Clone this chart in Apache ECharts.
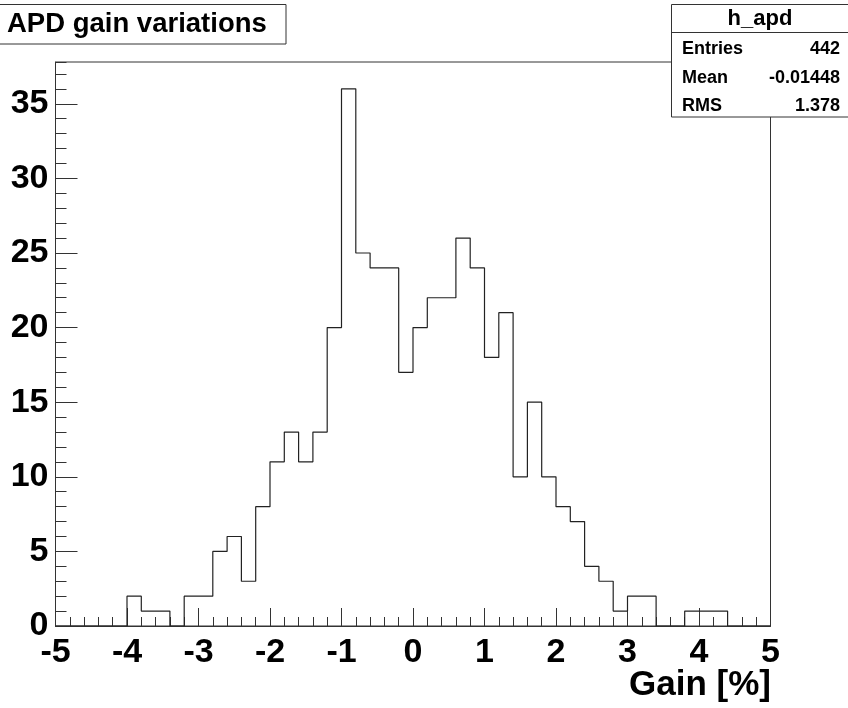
<!DOCTYPE html>
<html>
<head>
<meta charset="utf-8">
<script src="https://cdn.jsdelivr.net/npm/echarts@6/dist/echarts.min.js"></script>
<style>
  html, body { margin: 0; padding: 0; background: #fff; }
  #chart { width: 848px; height: 708px; }
</style>
</head>
<body>
<div id="chart"></div>
<script>
// histogram h_apd: 50 bins from -5 to 5
var binLow = -5;
var binWidth = 0.2;
var counts = [
  0, 0, 0, 0, 0, 2, 1, 1, 0, 2,
  2, 5, 6, 3, 8, 11, 13, 11, 13, 20,
  36, 25, 24, 24, 17, 20, 22, 22, 26, 24,
  18, 21, 10, 15, 10, 8, 7, 4, 3, 1,
  2, 2, 0, 0, 1, 1, 1, 0, 0, 0
];
var titleText = 'APD gain variations';
var statsName = 'h_apd';
var statsLabels = ['Entries', 'Mean', 'RMS'];
var statsValues = ['442', '-0.01448', '1.378'];
var xTitle = 'Gain [%]';

var yMax = 37.8; // 1.05 * max bin

// step outline: one point per bin low edge, then the last edge
var stepData = [];
for (var i = 0; i < counts.length; i++) {
  stepData.push([+(binLow + i * binWidth).toFixed(2), counts[i]]);
}
stepData.push([+(binLow + counts.length * binWidth).toFixed(2), counts[counts.length - 1]]);

var font = '"Liberation Sans", Arial, sans-serif';
var lineCol = '#333';

var chart = echarts.init(document.getElementById('chart'));

var graphic = [
  // title box
  {
    type: 'rect', z: 100,
    shape: { x: -1, y: 4.5, width: 287, height: 39.5 },
    style: { fill: '#fff', stroke: lineCol, lineWidth: 1 }
  },
  {
    type: 'text', z: 101,
    style: { text: titleText, x: 7, y: 24, font: 'bold 27.5px ' + font, fill: '#000', verticalAlign: 'middle' }
  },
  // stats box
  {
    type: 'rect', z: 100,
    shape: { x: 671.5, y: 4.5, width: 190, height: 112.5 },
    style: { fill: '#fff', stroke: lineCol, lineWidth: 1 }
  },
  {
    type: 'line', z: 101,
    shape: { x1: 671.5, y1: 32.5, x2: 848, y2: 32.5 },
    style: { stroke: lineCol, lineWidth: 1 }
  },
  {
    type: 'text', z: 101,
    style: { text: statsName, x: 760, y: 19, font: 'bold 22px ' + font, fill: '#000', align: 'center', verticalAlign: 'middle' }
  },
  {
    type: 'text', z: 101,
    style: { text: xTitle, x: 771, y: 685, font: 'bold 35px ' + font, fill: '#000', align: 'right', verticalAlign: 'middle' }
  }
];
var rowY = [49.5, 78.5, 106.5];
for (var r = 0; r < statsLabels.length; r++) {
  graphic.push({
    type: 'text', z: 101,
    style: { text: statsLabels[r], x: 682, y: rowY[r], font: 'bold 18px ' + font, fill: '#000', verticalAlign: 'middle' }
  });
  graphic.push({
    type: 'text', z: 101,
    style: { text: statsValues[r], x: 840, y: rowY[r], font: 'bold 18px ' + font, fill: '#000', align: 'right', verticalAlign: 'middle' }
  });
}

var option = {
  animation: false,
  backgroundColor: '#fff',
  grid: {
    left: 55.5, right: 77.5, top: 62, bottom: 82,
    show: true, borderColor: lineCol, borderWidth: 1, backgroundColor: 'transparent'
  },
  xAxis: {
    type: 'value',
    min: -5, max: 5, interval: 1,
    axisLine: { show: true, onZero: false, lineStyle: { color: lineCol, width: 1 } },
    axisTick: { show: true, inside: true, length: 18, lineStyle: { color: lineCol, width: 1 } },
    minorTick: { show: true, splitNumber: 5, length: 9, lineStyle: { color: lineCol, width: 1 } },
    splitLine: { show: false },
    axisLabel: {
      margin: 10, color: '#000', fontFamily: font, fontWeight: 'bold', fontSize: 34,
      showMinLabel: true, showMaxLabel: true
    }
  },
  yAxis: [
    {
      type: 'value',
      min: 0, max: yMax, interval: 5,
      axisLine: { show: true, onZero: false, lineStyle: { color: lineCol, width: 1 } },
      axisTick: { show: true, inside: true, length: 22, lineStyle: { color: lineCol, width: 1 } },
      splitLine: { show: false },
      axisLabel: {
        margin: 7, color: '#000', fontFamily: font, fontWeight: 'bold', fontSize: 34,
        showMaxLabel: false
      }
    },
    {
      type: 'value', position: 'left', offset: 0,
      min: 0, max: yMax, interval: 1,
      axisLine: { show: false, onZero: false },
      axisTick: { show: true, inside: true, length: 11, lineStyle: { color: lineCol, width: 1 } },
      splitLine: { show: false },
      axisLabel: { show: false }
    }
  ],
  series: [
    {
      type: 'line',
      step: 'end',
      data: stepData,
      showSymbol: false,
      symbol: 'none',
      lineStyle: { color: '#222', width: 1.2 },
      silent: true
    }
  ],
  graphic: graphic
};

chart.setOption(option);
</script>
</body>
</html>
